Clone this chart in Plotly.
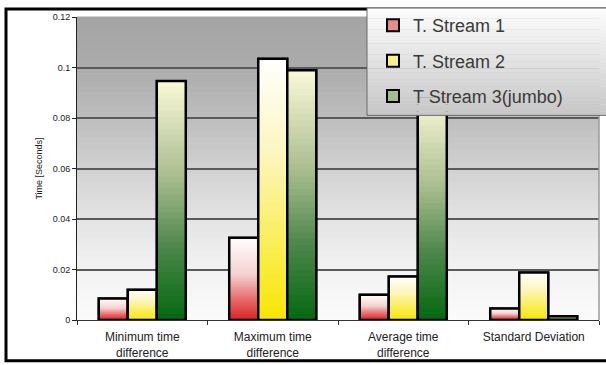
import plotly.graph_objects as go

# ---- data -------------------------------------------------------------
categories = [
    "Minimum time<br>difference",
    "Maximum time<br>difference",
    "Average time<br>difference",
    "Standard Deviation",
]
series_names = ["T. Stream 1", "T. Stream 2", "T Stream 3(jumbo)"]
stream1 = [0.0085, 0.0326, 0.0100, 0.0046]
stream2 = [0.0120, 0.1035, 0.0172, 0.0188]
stream3 = [0.0947, 0.0989, 0.0880, 0.0015]
y_ticks = [0, 0.02, 0.04, 0.06, 0.08, 0.1, 0.12]

# ---- styling ----------------------------------------------------------
W, H = 606, 365
PL, PR, PT, PB = 77, 7, 15, 45
PW, PH = W - PL - PR, H - PT - PB

# vertical gradients (0 = bottom of bar, 1 = top of bar)
grad_red = [(0.0, "#dc2222"), (0.25, "#e86a6a"), (0.55, "#f6d0d0"), (1.0, "#ffffff")]
grad_yellow = [(0.0, "#f7e600"), (0.3, "#faee5a"), (0.65, "#fcf6c0"), (1.0, "#ffffff")]
grad_green = [(0.0, "#04690f"), (0.3, "#4b864a"), (0.6, "#a9bd8e"), (1.0, "#fbf9d8")]
swatch = ["#ea8c8c", "#faf08a", "#a5bd8c"]
gradients = [grad_red, grad_yellow, grad_green]
series_vals = [stream1, stream2, stream3]

bg_grad = [(0.0, "#fbfbfb"), (0.17, "#f2f2f2"), (0.33, "#e4e4e4"),
           (0.5, "#d1d1d1"), (0.67, "#bdbdbd"), (0.83, "#acacac"), (1.0, "#a3a3a3")]
legend_grad = [(0.0, "#c6c6c6"), (0.5, "#e2e2e2"), (1.0, "#fdfdfd")]

N_SEG = 40


def hex_rgb(h):
    h = h.lstrip("#")
    return tuple(int(h[i:i + 2], 16) for i in (0, 2, 4))


def blend(stops, t):
    t = min(max(t, 0.0), 1.0)
    for (p0, c0), (p1, c1) in zip(stops[:-1], stops[1:]):
        if p0 <= t <= p1:
            f = 0 if p1 == p0 else (t - p0) / (p1 - p0)
            a, b = hex_rgb(c0), hex_rgb(c1)
            return "rgb(%d,%d,%d)" % tuple(round(a[i] + (b[i] - a[i]) * f) for i in range(3))
    return stops[-1][1]


def px_x(px):
    return (px - PL) / PW


def px_y(py):
    return (H - PB - py) / PH


fig = go.Figure()

for s, (name, vals, grad) in enumerate(zip(series_names, series_vals, gradients)):
    grp = str(s)
    # legend entry / base fill
    fig.add_trace(go.Bar(
        x=categories, y=vals, name=name, offsetgroup=grp, legendgroup=grp,
        marker=dict(color=swatch[s], line=dict(color="black", width=2)),
        hoverinfo="skip",
    ))
    # gradient fill: successively shorter bars, each covering the lower part
    for k in range(N_SEG):
        frac = (N_SEG - k) / N_SEG
        fig.add_trace(go.Bar(
            x=categories, y=[v * frac for v in vals], offsetgroup=grp,
            legendgroup=grp, showlegend=False, hoverinfo="skip",
            marker=dict(color=blend(grad, (N_SEG - k - 0.5) / N_SEG),
                        line=dict(width=0)),
        ))
    # outline
    fig.add_trace(go.Bar(
        x=categories, y=vals, offsetgroup=grp, legendgroup=grp,
        showlegend=False, name=name,
        marker=dict(color="rgba(0,0,0,0)", line=dict(color="black", width=2.5)),
    ))

shapes = []
# plot-area background gradient
NB = 48
for i in range(NB):
    shapes.append(dict(
        type="rect", xref="x domain", yref="y domain", layer="below",
        x0=0, x1=1, y0=i / NB, y1=(i + 1) / NB + 0.002,
        fillcolor=blend(bg_grad, (i + 0.5) / NB), line=dict(width=0),
    ))
# right edge of plot area
shapes.append(dict(type="line", xref="x domain", yref="y domain", x0=1, x1=1,
                   y0=0, y1=1, line=dict(color="#9a9a9a", width=1.5)))
# outer frame
shapes.append(dict(type="rect", xref="paper", yref="paper",
                   x0=px_x(6), x1=px_x(614), y0=px_y(361), y1=px_y(7),
                   line=dict(color="black", width=3), layer="below"))
# legend box with gradient fill
LX0, LX1, LY0, LY1 = 367, 612, 6, 114
NL = 30
for i in range(NL):
    y0 = LY1 - (LY1 - LY0) * i / NL
    y1 = LY1 - (LY1 - LY0) * (i + 1) / NL
    shapes.append(dict(
        type="rect", xref="paper", yref="paper", layer="above",
        x0=px_x(LX0), x1=px_x(LX1), y0=px_y(y0), y1=px_y(y1) + 0.001,
        fillcolor=blend(legend_grad, (i + 0.5) / NL), line=dict(width=0),
    ))
shapes.append(dict(type="rect", xref="paper", yref="paper", layer="above",
                   x0=px_x(LX0), x1=px_x(LX1), y0=px_y(LY1), y1=px_y(LY0),
                   line=dict(color="#6a6a6a", width=1)))

fig.update_layout(
    width=W, height=H,
    margin=dict(l=PL, r=PR, t=PT, b=PB, pad=0),
    paper_bgcolor="white", plot_bgcolor="rgba(0,0,0,0)",
    barmode="group", bargap=0.333, bargroupgap=0,
    font=dict(family="Liberation Sans, Arial, sans-serif", color="#222222"),
    shapes=shapes,
    showlegend=True,
    legend=dict(
        x=px_x(373), xanchor="left", y=px_y(5), yanchor="top",
        bgcolor="rgba(0,0,0,0)", borderwidth=0,
        font=dict(size=18, color="#3a3a3a"),
        tracegroupgap=9, traceorder="grouped",
    ),
    xaxis=dict(
        showgrid=False, showline=True, linecolor="#333333", linewidth=1,
        ticks="outside", tickson="boundaries", ticklen=4, tickcolor="#333333",
        tickfont=dict(size=12, color="#222222"), ticklabelstandoff=6,
        automargin=False, fixedrange=True,
    ),
    yaxis=dict(
        range=[0, 0.12], tickvals=y_ticks, ticktext=[f"{v:g}" for v in y_ticks],
        showgrid=True, gridcolor="#5a5a5a", gridwidth=1.5,
        showline=True, linecolor="#222222", linewidth=1, zeroline=False,
        ticks="outside", ticklen=4, tickcolor="#222222",
        tickfont=dict(size=9, color="#222222"),
        title=dict(text="Time [Seconds]", font=dict(size=9, color="#222222"), standoff=8),
        automargin=False, fixedrange=True,
    ),
)

fig.write_html("out.html")
